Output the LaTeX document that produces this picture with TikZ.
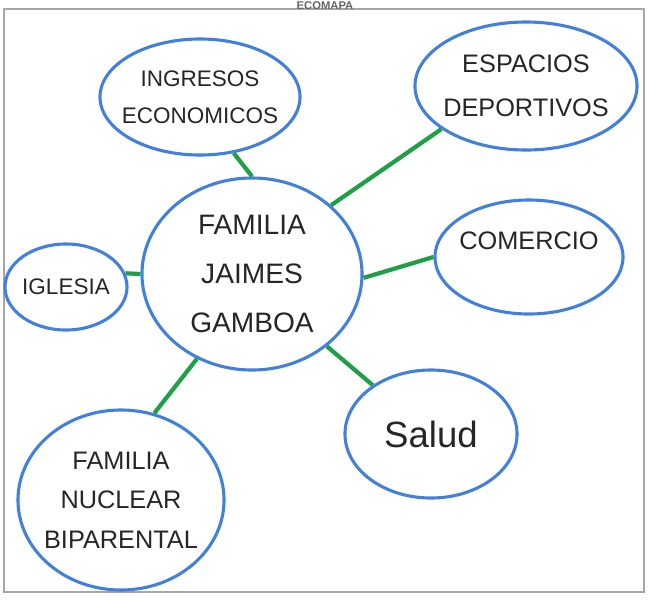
\documentclass[tikz,border=0pt]{standalone}
\usepackage{fontspec}
\setmainfont{Liberation Sans}
\usetikzlibrary{shapes}
\usetikzlibrary{positioning}
\definecolor{bubbleblue}{RGB}{66,128,222}
\definecolor{linkgreen}{RGB}{30,160,70}
\tikzset{
    bubble/.style = {ellipse, line width=2.2pt, draw=bubbleblue, fill=white, inner sep=0pt},
    words/.style = {align=center, text=black!85, font=\fontsize{18}{27}\selectfont},
    edgeg/.style = {line width=3pt, linkgreen},
    frame/.style = {draw=gray!70, thick}
}

\begin{document}
\begin{tikzpicture}[x=0.025cm, y=-0.025cm]
\useasboundingbox (0,0) rectangle (651,600);
%
\path[frame] (4,9) rectangle (644,592);
\node[anchor=north, inner sep=0pt, font=\bfseries\fontsize{8}{8}\selectfont, gray!80!black] at (325,1) (title) {ECOMAPA};
%
\node[bubble, minimum width=5cm, minimum height=2.9cm, label={[words, font=\fontsize{16}{26}\selectfont]center:INGRESOS\\ECONOMICOS}] at (200,97) (ingresos) {};
\node[bubble, minimum width=5.55cm, minimum height=3.2cm, label={[words, font=\fontsize{18}{31}\selectfont]center:ESPACIOS\\DEPORTIVOS}] at (526,86) (espacios) {};
\node[bubble, minimum width=5.5cm, minimum height=4.8cm, label={[words, font=\fontsize{20}{35}\selectfont]center:FAMILIA\\JAIMES\\GAMBOA}] at (252,274) (familia) {};
\node[bubble, minimum width=3.05cm, minimum height=2.15cm, label={[words, font=\fontsize{16}{20}\selectfont]center:IGLESIA}] at (66,287) (iglesia) {};
\node[bubble, minimum width=4.7cm, minimum height=2.85cm, label={[words, yshift=0.4cm]center:COMERCIO}] at (529,257) (comercio) {};
\node[bubble, minimum width=4.3cm, minimum height=3.2cm, label={[words, font=\fontsize{26}{30}\selectfont]center:Salud}] at (431,434) (salud) {};
\node[bubble, minimum width=5.15cm, minimum height=4.5cm, label={[words, font=\fontsize{18}{28}\selectfont]center:FAMILIA\\NUCLEAR\\BIPARENTAL}] at (121,500) (nuclear) {};
%
\draw[edgeg] (ingresos.-59) -- (familia.north);
\draw[edgeg] (espacios.207) -- (familia.41);
\draw[edgeg] (comercio.west) -- (familia.-2);
\draw[edgeg] (iglesia.13) -- (familia.180);
\draw[edgeg] (salud.140) -- (familia.-44);
\draw[edgeg] (nuclear.69) -- (familia.237);

\end{tikzpicture}
\end{document}
